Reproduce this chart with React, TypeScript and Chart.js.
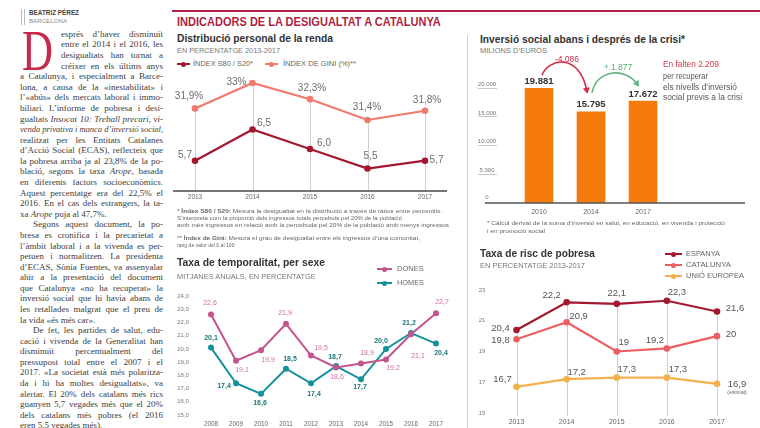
import React, { useEffect, useRef } from 'react';
import { Chart, registerables } from 'chart.js';

Chart.register(...registerables);

const SANS = '"Liberation Sans", Arial, Helvetica, sans-serif';
const SERIF = '"Liberation Serif", "Times New Roman", serif';

// ---------------- data ----------------
const rendaYears = ['2013', '2014', '2015', '2016', '2017'];
const s80Values = [5.7, 6.5, 6.0, 5.5, 5.7];
const giniValues = [31.9, 33, 32.3, 31.4, 31.8];

const inversioYears = ['2010', '2014', '2017'];
const inversioValues = [19881, 15795, 17672];
const inversioChanges = ['-4.086', '+ 1.877'];
const inversioTicks = [0, 5000, 10000, 15000, 20000];

const tempYears = ['2008', '2009', '2010', '2011', '2012', '2013', '2014', '2015', '2016', '2017'];
const donesValues = [22.6, 19.1, 19.9, 21.9, 19.5, 18.6, 18.9, 19.2, 21.1, 22.7];
const homesValues = [20.1, 17.4, 16.6, 18.5, 17.4, 18.7, 17.7, 20.0, 21.2, 20.4];
const tempTicks = [15, 16, 17, 18, 19, 20, 21, 22, 23, 24];

const pobresaYears = ['2013', '2014', '2015', '2016', '2017'];
const espanyaValues = [20.4, 22.2, 22.1, 22.3, 21.6];
const catalunyaValues = [19.8, 20.9, 19, 19.2, 20];
const ueValues = [16.7, 17.2, 17.3, 17.3, 16.9];
const pobresaTicks = [15, 17, 19, 21, 23];

// ---------------- styles ----------------
const C_S80 = '#a3172f';
const C_GINI = '#f2796e';
const C_ORANGE = '#f47b0c';
const C_DONES = '#c4548e';
const C_DONES_L = '#cf6fa0';
const C_HOMES = '#14919b';
const C_HOMES_L = '#17777c';
const C_ESP = '#a3172f';
const C_CAT = '#ec5f63';
const C_UE = '#f5b04e';
const C_TITLE = '#b01f42';

const OFF_GINI = [[-6, -12], [-16, -1], [2, -11], [-0.5, -13], [2, -10]];
const OFF_S80 = [[-10, -5], [11.5, -6], [14, -6], [3, -12], [11.5, 0]];
const OFF_DONES = [[-1, -11], [6, 9], [7, 10], [-1, -11], [10, -7], [1, 9.5], [6, -10], [7, 9], [7, 22], [6, -11]];
const OFF_HOMES = [[0, -10], [-12, 3], [-1, 9], [4, -10], [3, 10.5], [-1, -9], [-1, 8], [-5, -8], [-2, -10], [5, 9]];
const OFF_ESP = [[-16, -2], [-15, -7], [0, -10], [10, -8], [18, -3]];
const OFF_CAT = [[-16, 1], [12, -6], [7, -9], [-12, -8], [14, -2]];
const OFF_UE = [[-14, -7], [10, -7], [10, -8], [11, -8], [20, 0.5]];

const comma = (v: number, d?: number) => (d == null ? String(v) : v.toFixed(d)).replace('.', ',');
const thousands = (v: number) => String(v).replace(/\B(?=(\d{3})+(?!\d))/g, '.');

// ---------------- text helpers ----------------
const mc = document.createElement('canvas').getContext('2d') as CanvasRenderingContext2D;
function textWidth(t: string, font: string) {
  mc.font = font;
  return mc.measureText(t).width;
}
type Seg = { t: string; b: boolean; i: boolean };
function parseSegs(text: string, bold = false): Seg[] {
  const out: Seg[] = [];
  let b = bold, i = false, cur = '';
  for (const ch of text) {
    if (ch === '§' || ch === '_') {
      if (cur) out.push({ t: cur, b, i });
      cur = '';
      if (ch === '§') b = !b; else i = !i;
    } else cur += ch;
  }
  if (cur) out.push({ t: cur, b, i });
  return out;
}
function T({ x, y, text, size, color = '#333', bold = false, w, family = SANS }: any) {
  const segs = parseSegs(text, bold);
  const font = (s: Seg) => `${s.i ? 'italic ' : ''}${s.b ? 'bold ' : ''}${size}px ${family}`;
  const nat = segs.reduce((a, s) => a + textWidth(s.t, font(s)), 0);
  const sx = w ? w / nat : 1;
  return (
    <div style={{ position: 'absolute', left: x, top: y - size * 0.6, lineHeight: `${size * 1.2}px`, fontSize: size, fontFamily: family, color, whiteSpace: 'pre', transform: `scaleX(${sx})`, transformOrigin: '0 0' }}>
      {segs.map((s, k) => (
        <span key={k} style={{ fontWeight: s.b ? 700 : 400, fontStyle: s.i ? 'italic' : 'normal' }}>{s.t}</span>
      ))}
    </div>
  );
}
function BodyLine({ x, y, text, right, justify }: any) {
  const size = 9;
  const segs = parseSegs(text);
  const font = (s: Seg) => `${s.i ? 'italic ' : ''}${size}px ${SERIF}`;
  const nat = segs.reduce((a, s) => a + textWidth(s.t, font(s)), 0);
  const target = right - x;
  const spaces = (text.match(/ /g) || []).length;
  let sx = 1, ws = 0;
  if (nat > target) sx = target / nat;
  else if (justify && spaces) ws = (target - nat) / spaces;
  return (
    <div style={{ position: 'absolute', left: x, top: y - size * 0.6, lineHeight: `${size * 1.2}px`, fontSize: size, fontFamily: SERIF, color: '#3d3d3d', whiteSpace: 'pre', wordSpacing: ws, transform: `scaleX(${sx})`, transformOrigin: '0 0' }}>
      {segs.map((s, k) => (
        <span key={k} style={{ fontStyle: s.i ? 'italic' : 'normal' }}>{s.t}</span>
      ))}
    </div>
  );
}
function Marker({ x, y, color, w = 14 }: any) {
  return (
    <>
      <div style={{ position: 'absolute', left: x, top: y - 1, width: w, height: 2, background: color }} />
      <div style={{ position: 'absolute', left: x + w / 2 - 2.5, top: y - 2.5, width: 5, height: 5, borderRadius: '50%', background: color }} />
    </>
  );
}

// ---------------- body text ----------------
const bodyLines = [
  'esprés d\u2019haver disminuït',
  'entre el 2014 i el 2016, les',
  'desigualtats han tornat a',
  'créixer en els últims anys',
  'a Catalunya, i especialment a Barce-',
  'lona, a causa de la «inestabilitat» i',
  'l\u2019«abús» dels mercats laboral i immo-',
  'biliari. L\u2019informe de pobresa i desi-',
  'gualtats _Insocat 10: Treball precari, vi-_',
  '_venda privativa i manca d\u2019inversió social_,',
  'realitzat per les Entitats Catalanes',
  'd\u2019Acció Social (ECAS), reflecteix que',
  'la pobresa arriba ja al 23,8% de la po-',
  'blació, segons la taxa _Arope_, basada',
  'en diferents factors socioeconòmics.',
  'Aquest percentatge era del 22,5% el',
  '2016. En el cas dels estrangers, la ta-',
  'xa _Arope_ puja al 47,7%.',
  'Segons aquest document, la po-',
  'bresa es cronifica i la precarietat a',
  'l\u2019àmbit laboral i a la vivenda es per-',
  'petuen i normalitzen. La presidenta',
  'd\u2019ECAS, Sònia Fuentes, va assenyalar',
  'ahir a la presentació del document',
  'que Catalunya «no ha recuperat» la',
  'inversió social que hi havia abans de',
  'les retallades malgrat que el preu de',
  'la vida «és més car».',
  'De fet, les partides de salut, edu-',
  'cació i vivenda de la Generalitat han',
  'disminuït percentualment del',
  'pressupost total entre el 2007 i el',
  '2017. «La societat està més polaritza-',
  'da i hi ha moltes desigualtats», va',
  'alertar. El 20% dels catalans més rics',
  'guanyen 5,7 vegades més que el 20%',
  'dels catalans més pobres (el 2016',
  'eren 5,5 vegades més).',
];
const lastLines = [17, 27, 37];
const indentLines = [18, 28];

// ---------------- chart helpers ----------------
const baseOpts = {
  responsive: false,
  animation: false as const,
  devicePixelRatio: 1,
  events: [] as any[],
  plugins: { legend: { display: false }, tooltip: { enabled: false } },
};

function valueLabels(specs: any[]) {
  return {
    id: 'valueLabels',
    afterDatasetsDraw(chart: any) {
      const ctx = chart.ctx;
      ctx.save();
      ctx.textAlign = 'center';
      ctx.textBaseline = 'middle';
      specs.forEach((s) => {
        const meta = chart.getDatasetMeta(s.ds);
        const data = chart.data.datasets[s.ds].data;
        meta.data.forEach((el: any, i: number) => {
          const v = data[i];
          if (v == null) return;
          const o = s.off ? s.off[i] : [0, 0];
          ctx.font = s.font;
          ctx.fillStyle = s.color;
          ctx.fillText(s.fmt(v), el.x + o[0], el.y + o[1]);
        });
      });
      ctx.restore();
    },
  };
}

function lineDs(data: number[], color: string, extra: any = {}) {
  return {
    data,
    borderColor: color,
    backgroundColor: color,
    pointBackgroundColor: color,
    pointBorderColor: color,
    pointBorderWidth: 0,
    borderWidth: 2,
    pointRadius: 3,
    tension: 0,
    clip: false,
    ...extra,
  };
}

function ChartBox({ left, top, width, height, make }: any) {
  const ref = useRef<HTMLCanvasElement>(null);
  useEffect(() => {
    const chart = new Chart(ref.current as HTMLCanvasElement, make());
    return () => chart.destroy();
  }, []);
  return (
    <div style={{ position: 'absolute', left, top, width, height }}>
      <canvas ref={ref} width={width} height={height} style={{ width, height, display: 'block' }} />
    </div>
  );
}

// ---- chart 1: distribució de la renda ----
const makeRenda = (): any => ({
  type: 'line',
  data: {
    labels: rendaYears,
    datasets: [
      lineDs(s80Values, C_S80, { yAxisID: 'yS', borderWidth: 2.2, pointRadius: 3.3 }),
      lineDs(giniValues, C_GINI, { yAxisID: 'yG', borderWidth: 2.2, pointRadius: 3.3 }),
    ],
  },
  options: {
    ...baseOpts,
    layout: { padding: { left: 25, right: 30, top: 20, bottom: 19 } },
    scales: {
      x: { display: false, offset: false },
      yS: { display: false, min: 4.923, max: 7.77 },
      yG: { display: false, min: 28.325, max: 33.13 },
    },
  },
  plugins: [
    {
      id: 'axes1',
      beforeDatasetsDraw(chart: any) {
        const { ctx, chartArea: a } = chart;
        const xs = chart.scales.x;
        const gm = chart.getDatasetMeta(1);
        ctx.save();
        ctx.strokeStyle = '#cfcfcf';
        ctx.lineWidth = 1;
        rendaYears.forEach((_, i) => {
          const x = Math.round(xs.getPixelForValue(i)) + 0.5;
          ctx.beginPath();
          ctx.moveTo(x, gm.data[i].y);
          ctx.lineTo(x, a.bottom);
          ctx.stroke();
        });
        ctx.strokeStyle = '#4a4a4a';
        ctx.lineWidth = 1.5;
        ctx.beginPath();
        ctx.moveTo(a.left - 22, a.bottom);
        ctx.lineTo(a.right + 22, a.bottom);
        ctx.stroke();
        ctx.font = `6.5px ${SANS}`;
        ctx.fillStyle = '#666';
        ctx.textAlign = 'center';
        ctx.textBaseline = 'middle';
        rendaYears.forEach((y, i) => ctx.fillText(y, xs.getPixelForValue(i), a.bottom + 6));
        ctx.restore();
      },
    },
    valueLabels([
      { ds: 0, fmt: (v: number) => comma(v, 1), font: `10px ${SANS}`, color: '#6d6d6d', off: OFF_S80 },
      { ds: 1, fmt: (v: number) => comma(v) + '%', font: `10px ${SANS}`, color: '#6d6d6d', off: OFF_GINI },
    ]),
  ],
});

// ---- chart 2: inversió social ----
const makeInversio = (): any => ({
  type: 'bar',
  data: {
    labels: ['', ...inversioYears, '', ''],
    datasets: [
      {
        data: [null, ...inversioValues, null, null],
        backgroundColor: C_ORANGE,
        barThickness: 28,
      },
    ],
  },
  options: {
    ...baseOpts,
    layout: { padding: { left: 17, right: 13, top: 30, bottom: 22 } },
    scales: {
      x: { display: false, offset: false },
      y: { display: false, min: 0, max: 23050 },
    },
  },
  plugins: [
    {
      id: 'axes2',
      afterDatasetsDraw(chart: any) {
        const { ctx, chartArea: a } = chart;
        const ys = chart.scales.y;
        const xs = chart.scales.x;
        ctx.save();
        ctx.strokeStyle = '#555';
        ctx.lineWidth = 1.3;
        ctx.beginPath();
        ctx.moveTo(a.left - 2, a.bottom);
        ctx.lineTo(a.right - 2, a.bottom);
        ctx.stroke();
        ctx.font = `6px ${SANS}`;
        ctx.fillStyle = '#777';
        ctx.textAlign = 'center';
        ctx.textBaseline = 'bottom';
        inversioTicks.forEach((t) => {
          const y = ys.getPixelForValue(t);
          if (t > 0) {
            ctx.strokeStyle = '#bbb';
            ctx.lineWidth = 0.8;
            ctx.beginPath();
            ctx.moveTo(a.left - 9, Math.round(y) + 0.5);
            ctx.lineTo(a.left + 10, Math.round(y) + 0.5);
            ctx.stroke();
          }
          ctx.fillText(thousands(t), a.left, y - (t > 0 ? 0.5 : 2.5));
        });
        ctx.font = `7px ${SANS}`;
        ctx.fillStyle = '#666';
        ctx.textBaseline = 'middle';
        inversioYears.forEach((yr, k) => ctx.fillText(yr, xs.getPixelForValue(k + 1), a.bottom + 9));

        const meta = chart.getDatasetMeta(0);
        const bars = [meta.data[1], meta.data[2], meta.data[3]];
        ctx.font = `bold 9.5px ${SANS}`;
        ctx.fillStyle = '#333';
        bars.forEach((b: any, k: number) => ctx.fillText(thousands(inversioValues[k]), b.x, b.y - 7));

        const arrow = (p0: number[], c1: number[], c2: number[], p3: number[], color: string) => {
          ctx.strokeStyle = color;
          ctx.lineWidth = 1.6;
          ctx.beginPath();
          ctx.moveTo(p0[0], p0[1]);
          ctx.bezierCurveTo(c1[0], c1[1], c2[0], c2[1], p3[0] , p3[1]);
          ctx.stroke();
          const ang = Math.atan2(p3[1] - c2[1], p3[0] - c2[0]);
          const L = 6, W = 3.5;
          const tx = p3[0] + Math.cos(ang) * 2, ty = p3[1] + Math.sin(ang) * 2;
          ctx.fillStyle = color;
          ctx.beginPath();
          ctx.moveTo(tx, ty);
          ctx.lineTo(tx - Math.cos(ang) * L + Math.sin(ang) * W, ty - Math.sin(ang) * L - Math.cos(ang) * W);
          ctx.lineTo(tx - Math.cos(ang) * L - Math.sin(ang) * W, ty - Math.sin(ang) * L + Math.cos(ang) * W);
          ctx.closePath();
          ctx.fill();
        };
        const [b1, b2, b3]: any[] = bars;
        const r0 = [b1.x + 3, b1.y - 13], r3 = [b2.x - 4, b2.y - 20];
        arrow(r0, [r0[0] + 6, r0[1] - 17], [r3[0] - 7, r3[1] - 40], r3, '#d42a45');
        const g0 = [b2.x + 1, b2.y - 19], g3 = [b3.x - 5, b3.y - 16];
        arrow(g0, [g0[0] + 4, g0[1] - 23], [g3[0] - 13, g3[1] - 19], g3, '#62b57e');
        ctx.font = `8.5px ${SANS}`;
        ctx.fillStyle = '#d42a45';
        ctx.fillText(inversioChanges[0], (b1.x + b2.x) / 2 + 2, b1.y - 29);
        ctx.fillStyle = '#4fae70';
        ctx.fillText(inversioChanges[1], (b2.x + b3.x) / 2 + 1, b3.y - 33);
        ctx.restore();
      },
    },
  ],
});

// ---- chart 3: temporalitat ----
const makeTemp = (): any => ({
  type: 'line',
  data: {
    labels: tempYears,
    datasets: [lineDs(donesValues, C_DONES, { pointRadius: 3 }), lineDs(homesValues, C_HOMES, { pointRadius: 3 })],
  },
  options: {
    ...baseOpts,
    layout: { padding: { left: 36, right: 24, top: 11, bottom: 13 } },
    scales: { x: { display: false, offset: false }, y: { display: false, min: 15, max: 24 } },
  },
  plugins: [
    {
      id: 'axes3',
      beforeDatasetsDraw(chart: any) {
        const { ctx, chartArea: a } = chart;
        const xs = chart.scales.x, ys = chart.scales.y;
        ctx.save();
        ctx.font = `6px ${SANS}`;
        ctx.fillStyle = '#777';
        ctx.textAlign = 'center';
        ctx.textBaseline = 'middle';
        tempTicks.forEach((t) => ctx.fillText(comma(t, 1), 8, ys.getPixelForValue(t)));
        ctx.font = `6.3px ${SANS}`;
        ctx.fillStyle = '#666';
        tempYears.forEach((y, i) => ctx.fillText(y, xs.getPixelForValue(i), a.bottom + 9));
        ctx.restore();
      },
    },
    valueLabels([
      { ds: 0, fmt: (v: number) => comma(v, 1), font: `7px ${SANS}`, color: C_DONES_L, off: OFF_DONES },
      { ds: 1, fmt: (v: number) => comma(v, 1), font: `bold 7px ${SANS}`, color: C_HOMES_L, off: OFF_HOMES },
    ]),
  ],
});

// ---- chart 4: risc de pobresa ----
const makePobresa = (): any => ({
  type: 'line',
  data: {
    labels: pobresaYears,
    datasets: [
      lineDs(espanyaValues, C_ESP, { borderWidth: 2.2, pointRadius: 3.3 }),
      lineDs(catalunyaValues, C_CAT, { borderWidth: 2.2, pointRadius: 3.3 }),
      lineDs(ueValues, C_UE, { borderWidth: 2.2, pointRadius: 3.3 }),
    ],
  },
  options: {
    ...baseOpts,
    layout: { padding: { left: 46.5, right: 43, top: 10, bottom: 15 } },
    scales: { x: { display: false, offset: false }, y: { display: false, min: 15, max: 23 } },
  },
  plugins: [
    {
      id: 'axes4',
      beforeDatasetsDraw(chart: any) {
        const { ctx, chartArea: a } = chart;
        const xs = chart.scales.x, ys = chart.scales.y;
        const em = chart.getDatasetMeta(0);
        ctx.save();
        ctx.strokeStyle = '#cfcfcf';
        ctx.lineWidth = 1;
        pobresaYears.forEach((_, i) => {
          const x = Math.round(xs.getPixelForValue(i)) + 0.5;
          ctx.beginPath();
          ctx.moveTo(x, em.data[i].y);
          ctx.lineTo(x, a.bottom + 3);
          ctx.stroke();
        });
        ctx.font = `6px ${SANS}`;
        ctx.fillStyle = '#777';
        ctx.textAlign = 'center';
        ctx.textBaseline = 'middle';
        pobresaTicks.forEach((t) => ctx.fillText(String(t), 12, ys.getPixelForValue(t)));
        ctx.font = `7px ${SANS}`;
        ctx.fillStyle = '#666';
        pobresaYears.forEach((y, i) => ctx.fillText(y, xs.getPixelForValue(i), a.bottom + 9));
        ctx.restore();
      },
      afterDatasetsDraw(chart: any) {
        const ctx = chart.ctx;
        const um = chart.getDatasetMeta(2);
        const last = um.data[um.data.length - 1];
        ctx.save();
        ctx.font = `5px ${SANS}`;
        ctx.fillStyle = '#666';
        ctx.textAlign = 'center';
        ctx.textBaseline = 'middle';
        ctx.fillText('(estimat)', last.x + 20, last.y + 9);
        ctx.restore();
      },
    },
    valueLabels([
      { ds: 0, fmt: (v: number) => comma(v), font: `9.5px ${SANS}`, color: '#555', off: OFF_ESP },
      { ds: 1, fmt: (v: number) => comma(v), font: `9.5px ${SANS}`, color: '#555', off: OFF_CAT },
      { ds: 2, fmt: (v: number) => comma(v), font: `9.5px ${SANS}`, color: '#555', off: OFF_UE },
    ]),
  ],
});

export default function App() {
  const LH = 10.58;
  return (
    <div style={{ position: 'absolute', left: 0, top: 0, width: 760, height: 428, background: '#fff', overflow: 'hidden' }}>
      {/* left text column */}
      <div style={{ position: 'absolute', left: 21, top: 9, width: 1, height: 16, background: '#bbb' }} />
      <div style={{ position: 'absolute', left: 23.5, top: 9, width: 1, height: 16, background: '#bbb' }} />
      <T x={29} y={13} text="BEATRIZ PÉREZ" size={6.5} bold color="#444" w={50} />
      <T x={29} y={21.5} text="BARCELONA" size={6} color="#888" w={38} />
      <T x={22} y={51} text="D" size={57} color="#c8284a" family={SERIF} w={31} />
      {bodyLines.map((t, i) => {
        const x = i < 4 ? 61 : indentLines.includes(i) ? 33 : 20;
        return <BodyLine key={i} x={x} y={34.3 + i * LH} text={t} right={163} justify={!lastLines.includes(i)} />;
      })}

      {/* header */}
      <div style={{ position: 'absolute', left: 172, top: 10, width: 588, height: 2, background: C_TITLE }} />
      <T x={177} y={22} text="INDICADORS DE LA DESIGUALTAT A CATALUNYA" size={12.5} bold color={C_TITLE} w={265} />
      <div style={{ position: 'absolute', left: 467, top: 35, width: 1, height: 393, background: '#cfcfcf' }} />

      {/* chart 1 */}
      <T x={177} y={39} text="Distribució personal de la renda" size={11} bold color="#333" w={156} />
      <T x={177} y={51} text="EN PERCENTATGE 2013-2017" size={6.5} color="#777" w={103} />
      <Marker x={177} y={64} color={C_S80} w={13} />
      <T x={193} y={64} text="ÍNDEX S80 / S20*" size={6.5} color="#666" w={60} />
      <Marker x={265} y={64} color={C_GINI} w={13} />
      <T x={283} y={64} text="ÍNDEX DE GINI (%)**" size={6.5} color="#666" w={73} />
      <ChartBox left={170} top={60} width={285} height={150} make={makeRenda} />
      <T x={177} y={212} text="* §Índex S80 / S20:§ Mesura la desigualtat en la distribució a través de ràtios entre percentils." size={6} color="#666" w={265} />
      <T x={177} y={218.7} text="S’interpreta com la proporció dels ingressos totals percebuts pel 20% de la població" size={6} color="#666" w={225} />
      <T x={177} y={225.3} text="amb més ingressos en relació amb la percebuda pel 20% de la població amb menys ingressos" size={6} color="#666" w={272} />
      <T x={177} y={239} text="** §Índex de Gini:§ Mesura el grau de desigualtat entre els ingressos d’una comunitat," size={6} color="#666" w={243} />
      <T x={177} y={245.7} text="rang de valor del 0 al 100" size={6} color="#666" w={57.5} />

      {/* chart 3 */}
      <T x={177} y={263} text="Taxa de temporalitat, per sexe" size={11} bold color="#333" w={148} />
      <T x={177} y={277} text="MITJANES ANUALS, EN PERCENTATGE" size={6.5} color="#777" w={139} />
      <Marker x={377} y={269} color={C_DONES} w={15} />
      <T x={397} y={269} text="DONES" size={6.5} color="#666" w={26.7} />
      <Marker x={377} y={283} color={C_HOMES} w={15} />
      <T x={397} y={283} text="HOMES" size={6.5} color="#666" w={27} />
      <ChartBox left={175} top={285} width={285} height={143} make={makeTemp} />

      {/* chart 2 */}
      <T x={480} y={40} text="Inversió social abans i després de la crisi*" size={11} bold color="#333" w={205} />
      <T x={480} y={50.5} text="MILIONS D’EUROS" size={6.5} color="#777" w={67} />
      <ChartBox left={470} top={40} width={290} height={185} make={makeInversio} />
      <T x={663} y={64} text="En falten 2.209" size={9} color="#d13a4c" w={56} />
      <T x={663} y={76.5} text="per recuperar" size={9} color="#555" w={45} />
      <T x={663} y={87} text="els nivells d’inversió" size={9} color="#555" w={74} />
      <T x={663} y={97.5} text="social previs a la crisi" size={9} color="#555" w={79} />
      <T x={487} y={224} text="* Càlcul derivat de la suma d’inversió en salut, en educació, en vivenda i protecció" size={6} color="#666" w={238} />
      <T x={487} y={232} text="i en promoció social" size={6} color="#666" w={58} />

      {/* chart 4 */}
      <T x={480} y={254} text="Taxa de risc de pobresa" size={11} bold color="#333" w={115} />
      <T x={480} y={266} text="EN PERCENTATGE 2013-2017" size={6.5} color="#777" w={105} />
      <Marker x={665} y={254} color={C_ESP} w={17} />
      <T x={686} y={254} text="ESPANYA" size={7} color="#666" w={34} />
      <Marker x={665} y={265} color={C_CAT} w={17} />
      <T x={686} y={265} text="CATALUNYA" size={7} color="#666" w={45} />
      <Marker x={665} y={276} color={C_UE} w={17} />
      <T x={686} y={276} text="UNIÓ EUROPEA" size={7} color="#666" w={58} />
      <ChartBox left={470} top={280} width={290} height={148} make={makePobresa} />
    </div>
  );
}
